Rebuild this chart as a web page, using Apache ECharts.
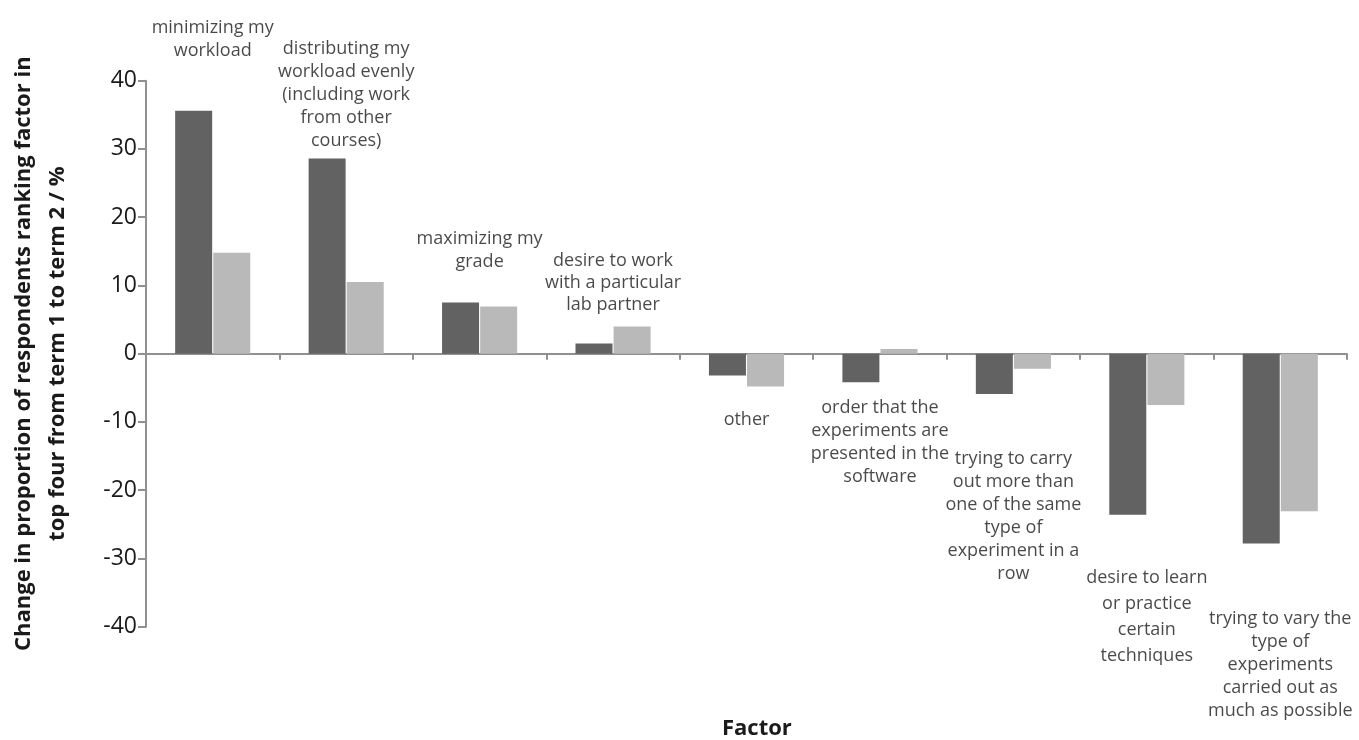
<!DOCTYPE html>
<html>
<head>
<meta charset="utf-8">
<script src="https://cdn.jsdelivr.net/npm/echarts@6/dist/echarts.min.js"></script>
<style>
html,body{margin:0;padding:0;background:#fff;}
#chart{width:1359px;height:740px;}
</style>
</head>
<body>
<div id="chart"></div>
<script>
// ---- data ----
const categories = [
  'minimizing my\nworkload',
  'distributing my\nworkload evenly\n(including work\nfrom other\ncourses)',
  'maximizing my\ngrade',
  'desire to work\nwith a particular\nlab partner',
  'other',
  'order that the\nexperiments are\npresented in the\nsoftware',
  'trying to carry\nout more than\none of the same\ntype of\nexperiment in a\nrow',
  'desire to learn\nor practice\ncertain\ntechniques',
  'trying to vary the\ntype of\nexperiments\ncarried out as\nmuch as possible'
];
const seriesDark  = [35.6, 28.6, 7.5, 1.5, -3.2, -4.2, -5.9, -23.6, -27.8];
const seriesLight = [14.8, 10.5, 6.9, 4.0, -4.8, 0.7, -2.2, -7.5, -23.1];
const yTicks = [-40, -30, -20, -10, 0, 10, 20, 30, 40];

// ---- layout of the category annotations (value-axis units of the text block centres) ----
const labelAnchorY = [46.1, 37.9, 15.2, 10.4, -9.7, -13.0, -23.9, -38.5, -45.6];
const labelLineHeight = [23, 23, 23, 22, 23, 23, 23, 26, 23];

const chart = echarts.init(document.getElementById('chart'));
const font = '"Open Sans", sans-serif';

chart.setOption({
  backgroundColor: '#fff',
  animation: false,
  title: {
    text: 'Factor',
    left: 722,
    top: 718,
    padding: 0,
    textStyle: { fontFamily: font, fontWeight: 'bold', fontSize: 22, color: '#1a1a1a', lineHeight: 22 }
  },
  grid: { left: 146, right: 12, top: 80.7, bottom: 113.3, containLabel: false, outerBoundsMode: 'none' },
  xAxis: {
    type: 'category',
    data: categories,
    axisLine: { onZero: true, lineStyle: { color: '#909090', width: 2 } },
    axisTick: { show: true, length: 6, lineStyle: { color: '#909090', width: 2 } },
    axisLabel: { show: false },
    splitLine: { show: false }
  },
  yAxis: {
    type: 'value',
    min: yTicks[0],
    max: yTicks[yTicks.length - 1],
    interval: 10,
    name: 'Change in proportion of respondents ranking factor in\ntop four from term 1 to term 2 / %',
    nameLocation: 'middle',
    nameRotate: 90,
    nameGap: 71,
    nameTextStyle: { fontFamily: font, fontWeight: 'bold', fontSize: 22, color: '#1a1a1a', lineHeight: 34 },
    axisLine: { show: true, lineStyle: { color: '#909090', width: 2 } },
    axisTick: { show: true, length: 8, lineStyle: { color: '#909090', width: 2 } },
    axisLabel: { margin: 9, fontFamily: font, fontSize: 23, color: '#1a1a1a' },
    splitLine: { show: false }
  },
  series: [
    {
      type: 'bar',
      data: seriesDark,
      barWidth: 37,
      barGap: '3%',
      itemStyle: { color: '#626262' },
      silent: true
    },
    {
      type: 'bar',
      data: seriesLight,
      barWidth: 37,
      itemStyle: { color: '#b9b9b9' },
      silent: true
    },
    {
      type: 'scatter',
      data: labelAnchorY.map((v, i) => ({
        value: [i, v],
        label: { lineHeight: labelLineHeight[i] }
      })),
      symbolSize: 0,
      clip: false,
      silent: true,
      z: 10,
      label: {
        show: true,
        position: 'inside',
        align: 'center',
        verticalAlign: 'middle',
        fontFamily: font,
        fontSize: 18,
        color: '#1a1a1a',
        formatter: p => categories[p.dataIndex]
      }
    }
  ]
});
</script>
</body>
</html>
